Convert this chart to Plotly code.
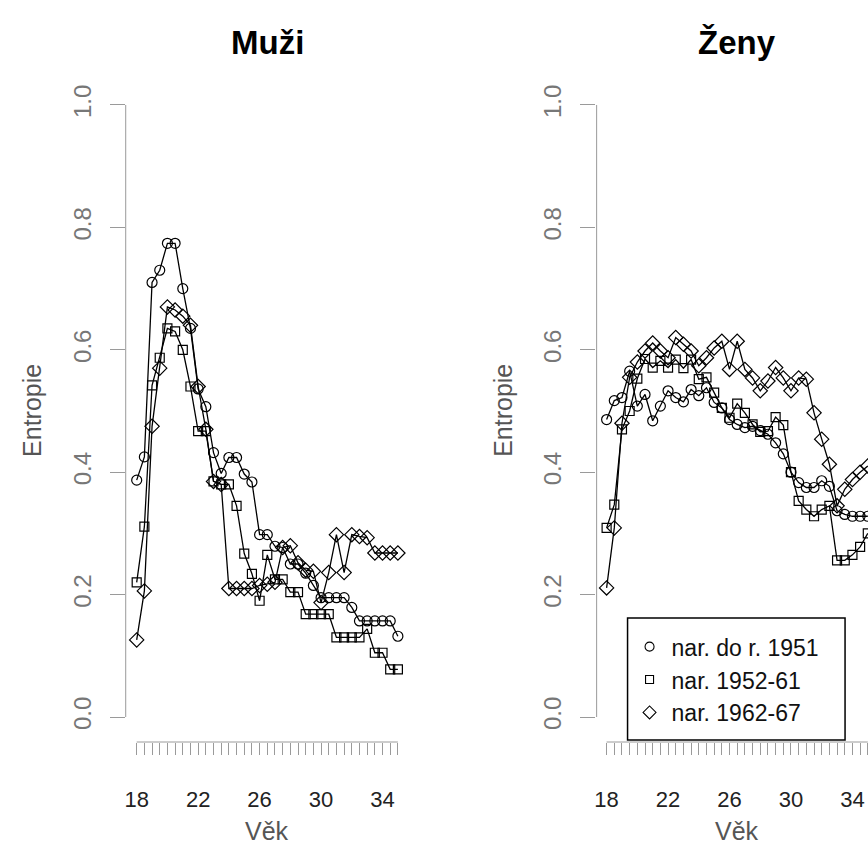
import plotly.graph_objects as go

# ---------------- data ----------------
age = [18.0, 18.5, 19.0, 19.5, 20.0, 20.5, 21.0, 21.5, 22.0, 22.5,
       23.0, 23.5, 24.0, 24.5, 25.0, 25.5, 26.0, 26.5, 27.0, 27.5,
       28.0, 28.5, 29.0, 29.5, 30.0, 30.5, 31.0, 31.5, 32.0, 32.5,
       33.0, 33.5, 34.0, 34.5, 35.0]

muzi_do1951 = [0.387, 0.425, 0.71, 0.73, 0.774, 0.774, 0.70, 0.635, 0.536, 0.507,
               0.432, 0.398, 0.424, 0.424, 0.397, 0.384, 0.298, 0.298, 0.279, 0.277,
               0.25, 0.25, 0.235, 0.215, 0.195, 0.195, 0.195, 0.195, 0.179, 0.157,
               0.157, 0.157, 0.157, 0.157, 0.132]
muzi_1952_61 = [0.22, 0.311, 0.542, 0.587, 0.635, 0.63, 0.60, 0.54, 0.467, 0.467,
                0.385, 0.38, 0.38, 0.345, 0.267, 0.234, 0.19, 0.265, 0.225, 0.225,
                0.204, 0.204, 0.168, 0.168, 0.168, 0.168, 0.13, 0.13, 0.13, 0.13,
                0.144, 0.105, 0.105, 0.078, 0.078]
muzi_1962_67 = [0.126, 0.206, 0.475, 0.57, 0.67, 0.665, 0.655, 0.64, 0.54, 0.47,
                0.385, 0.38, 0.21, 0.21, 0.21, 0.21, 0.215, 0.217, 0.22, 0.277,
                0.28, 0.252, 0.24, 0.238, 0.187, 0.236, 0.298, 0.236, 0.298, 0.295,
                0.293, 0.268, 0.268, 0.268, 0.268]

zeny_do1951 = [0.486, 0.517, 0.522, 0.565, 0.508, 0.527, 0.484, 0.508, 0.533, 0.522,
               0.515, 0.535, 0.525, 0.538, 0.514, 0.505, 0.486, 0.478, 0.473, 0.475,
               0.468, 0.462, 0.448, 0.43, 0.40, 0.383, 0.375, 0.375, 0.386, 0.377,
               0.337, 0.331, 0.328, 0.328, 0.328]
zeny_1952_61 = [0.309, 0.347, 0.47, 0.50, 0.553, 0.585, 0.571, 0.582, 0.571, 0.584,
                0.57, 0.584, 0.552, 0.555, 0.53, 0.505, 0.489, 0.512, 0.497, 0.478,
                0.466, 0.467, 0.49, 0.477, 0.40, 0.353, 0.339, 0.328, 0.339, 0.345,
                0.256, 0.256, 0.265, 0.278, 0.30]
zeny_1962_67 = [0.211, 0.309, 0.48, 0.555, 0.58, 0.598, 0.611, 0.598, 0.587, 0.62,
                0.609, 0.598, 0.574, 0.587, 0.603, 0.614, 0.568, 0.614, 0.568, 0.554,
                0.533, 0.549, 0.571, 0.554, 0.533, 0.554, 0.552, 0.497, 0.454, 0.413,
                0.345, 0.372, 0.388, 0.40, 0.41]

series_names = ["nar. do r. 1951", "nar. 1952-61", "nar. 1962-67"]
symbols = ["circle-open", "square-open", "diamond-open"]
sizes = [10, 9, 11]
x_labels = [18, 22, 26, 30, 34]
y_ticks = [0.0, 0.2, 0.4, 0.6, 0.8, 1.0]
panel_titles = ["Muži", "Ženy"]

# ---------------- figure ----------------
W, H = 868, 863
FONT = "Liberation Sans, Arial, sans-serif"
AXC = "#9a9a9a"

fig = go.Figure()

for data, xa, ya in [((muzi_do1951, muzi_1952_61, muzi_1962_67), "x", "y"),
                     ((zeny_do1951, zeny_1952_61, zeny_1962_67), "x2", "y2")]:
    for vals, sym, sz in zip(data, symbols, sizes):
        fig.add_trace(go.Scatter(
            x=age, y=vals, xaxis=xa, yaxis=ya, mode="lines+markers",
            line=dict(color="black", width=1.3),
            marker=dict(symbol=sym, size=sz, color="black", line=dict(width=1.2, color="black")),
            showlegend=False, hoverinfo="skip"))

# legend-only marker entries
for name, sym, sz in zip(series_names, symbols, sizes):
    fig.add_trace(go.Scatter(
        x=[None], y=[None], xaxis="x2", yaxis="y2", mode="markers", name=name,
        marker=dict(symbol=sym, size=sz - 1, color="black", line=dict(width=1.1, color="black")),
        showlegend=True))

px = 15.4  # pixels per year
def xdom(left_px, right_px):
    return [left_px / W, min(right_px / W, 1.0)]

ydom = [1 - 741.5 / H, 1 - 80.5 / H]
tickvals_x = age
ticktext_x = [str(int(a)) if a in x_labels else "" for a in age]

common_x = dict(tickmode="array", tickvals=tickvals_x, ticktext=ticktext_x,
                ticks="outside", ticklen=12, tickcolor=AXC, tickwidth=1,
                showline=False, showgrid=False, zeroline=False,
                tickfont=dict(family=FONT, size=22, color="#222"),
                ticklabelstandoff=26)
common_y = dict(range=[-0.04, 1.04], domain=ydom, tickmode="array", tickvals=y_ticks,
                ticktext=["%.1f" % v for v in y_ticks], tickangle=-90,
                ticks="outside", ticklen=15, tickcolor=AXC, tickwidth=1,
                showline=False, showgrid=False, zeroline=False,
                tickfont=dict(family=FONT, size=24, color="#777"),
                ticklabelstandoff=10)

left_l = 124.5
right_l = 595.5
x0 = age[0] - 10.5 / px
fig.update_layout(
    width=W, height=H, margin=dict(l=0, r=0, t=0, b=0),
    paper_bgcolor="white", plot_bgcolor="white",
    xaxis=dict(domain=xdom(left_l, left_l + 282.8), range=[x0, x0 + 282.8 / px],
               anchor="y", **common_x),
    yaxis=dict(anchor="x", **common_y),
    xaxis2=dict(domain=xdom(right_l, W), range=[x0, x0 + (W - right_l) / px],
                anchor="y2", **common_x),
    yaxis2=dict(anchor="x2", **common_y),
    showlegend=True,
    legend=dict(x=627 / W, y=1 - 620 / H, xanchor="left", yanchor="top",
                bgcolor="rgba(0,0,0,0)", borderwidth=0,
                font=dict(family=FONT, size=23, color="#111"),
                itemwidth=34, tracegroupgap=0,
                title=dict(text=" ", font=dict(size=4))),
)

# legend frame
fig.add_shape(type="rect", xref="paper", yref="paper",
              x0=627 / W, x1=845 / W, y0=1 - 740 / H, y1=1 - 618 / H,
              line=dict(color="black", width=1.5), fillcolor="white", layer="below")

# R-style axis lines (only from first to last tick)
for xref, yref, xpx in [("x", "y", 124), ("x2", "y2", 596)]:
    fig.add_shape(type="line", xref="paper", yref=yref, x0=xpx / W, x1=xpx / W,
                  y0=y_ticks[0], y1=y_ticks[-1], line=dict(color=AXC, width=1))
    fig.add_shape(type="line", xref=xref, yref="paper", x0=age[0], x1=age[-1],
                  y0=1 - 742 / H, y1=1 - 742 / H, line=dict(color=AXC, width=1))

# titles and axis labels
for title, cx in zip(panel_titles, [266, 737]):
    fig.add_annotation(text="<b>%s</b>" % title, x=cx / W, y=1 - 42 / H, xref="paper", yref="paper",
                       showarrow=False, font=dict(family=FONT, size=33, color="black"),
                       xanchor="center", yanchor="middle")
    fig.add_annotation(text="Věk", x=cx / W, y=1 - 831 / H, xref="paper", yref="paper",
                       showarrow=False, font=dict(family=FONT, size=25, color="#555"),
                       xanchor="center", yanchor="middle")
for cx in [30, 502]:
    fig.add_annotation(text="Entropie", x=cx / W, y=1 - 410 / H, xref="paper", yref="paper",
                       textangle=-90, showarrow=False,
                       font=dict(family=FONT, size=25, color="#555"),
                       xanchor="center", yanchor="middle")

fig.write_html("out.html")
